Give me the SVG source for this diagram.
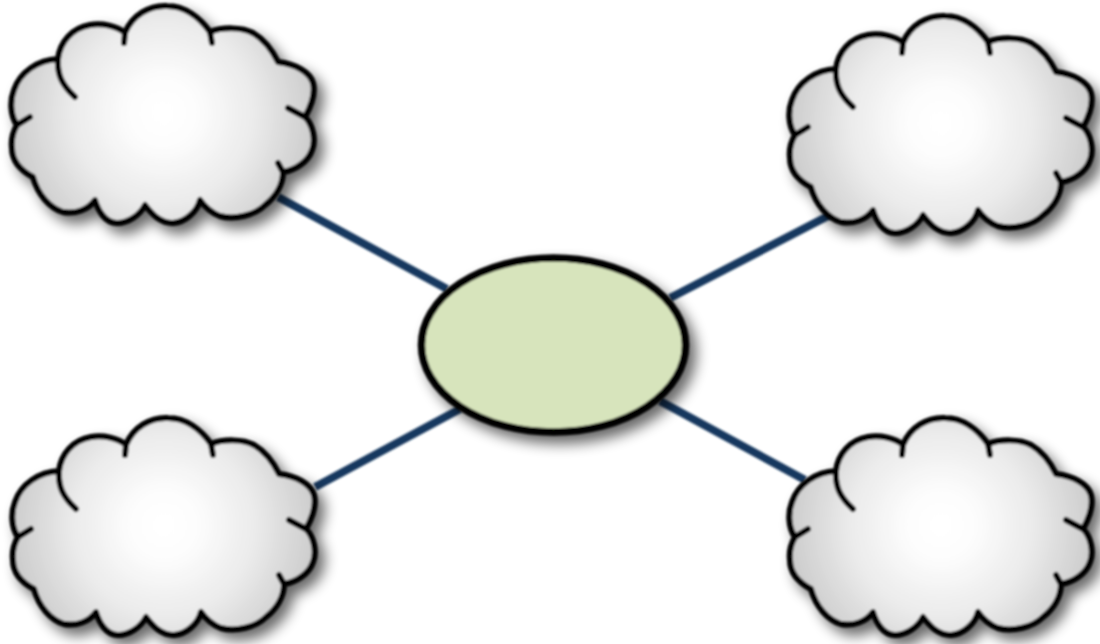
<svg xmlns="http://www.w3.org/2000/svg" xmlns:xlink="http://www.w3.org/1999/xlink" width="1100" height="644" viewBox="0 0 1100 644">
<style>
.cloud{fill:url(#cg);stroke:#000;stroke-width:6;stroke-linejoin:round;stroke-linecap:round}
.notch{fill:none;stroke:#000;stroke-width:6;stroke-linecap:round}
.link{stroke:#17375e;stroke-width:8;fill:none}
</style>
<defs>
<radialGradient id="cg" gradientUnits="userSpaceOnUse" cx="163" cy="113" r="165">
<stop offset="0" stop-color="#fff"/><stop offset="0.2" stop-color="#fdfdfd"/><stop offset="0.55" stop-color="#ebebeb"/><stop offset="1" stop-color="#c6c6c6"/>
</radialGradient>
<filter id="soft" x="-10%" y="-10%" width="130%" height="130%">
<feGaussianBlur in="SourceAlpha" stdDeviation="7" result="b"/>
<feOffset in="b" dx="7" dy="8" result="o"/>
<feComponentTransfer in="o" result="s"><feFuncA type="linear" slope="0.6"/></feComponentTransfer>
<feGaussianBlur in="SourceGraphic" stdDeviation="1" result="g"/>
<feMerge><feMergeNode in="s"/><feMergeNode in="g"/></feMerge>
</filter>
<filter id="blur" x="-5%" y="-5%" width="110%" height="110%"><feGaussianBlur stdDeviation="1"/></filter>
<g id="cl">
<path class="cloud" d="M125 33C132 15 150 5 167 6C185 6 200 18 210 32C222 27 242 27 253 33C265 40 272 50 278 62C295 64 310 72 313 83C316 95 310 108 305 117C313 125 316 140 312 150C308 162 295 170 283 172C283 185 275 197 265 205C255 215 235 220 220 216C212 213 205 207 200 200C197 212 185 222 173 223C160 223 152 214 145 205C140 215 128 223 117 223C105 223 98 210 95 200C88 210 75 214 63 212C50 208 38 195 33 177C20 170 12 160 12 148C11 140 13 132 17 125C10 115 10 100 14 90C20 72 38 60 58 59C60 42 72 28 90 25C102 23 117 26 125 33Z"/>
<path class="notch" d="M58 59C57 75 62 85 75 97M17 125L30 117M305 117L288 108M210 32L212 43M125 33L124 43M283 172L278 163"/>
</g>
</defs>
<g id="connectors" filter="url(#blur)">
<line class="link" x1="278" y1="197" x2="447" y2="289"/>
<line class="link" x1="670" y1="298" x2="830" y2="215"/>
<line class="link" x1="315" y1="487" x2="460" y2="409"/>
<line class="link" x1="660" y1="401" x2="805" y2="480"/>
</g>
<g id="cloud-top-left" filter="url(#soft)"><use xlink:href="#cl" href="#cl"/></g>
<g id="cloud-top-right" filter="url(#soft)"><use xlink:href="#cl" href="#cl" transform="translate(778 10)"/></g>
<g id="cloud-bottom-left" filter="url(#soft)"><use xlink:href="#cl" href="#cl" transform="translate(1 412)"/></g>
<g id="cloud-bottom-right" filter="url(#soft)"><use xlink:href="#cl" href="#cl" transform="translate(778 412)"/></g>
<g id="hub" filter="url(#soft)"><ellipse cx="553.5" cy="345" rx="132" ry="87" fill="#d7e4bc" stroke="#000" stroke-width="7.5"/></g>
</svg>
